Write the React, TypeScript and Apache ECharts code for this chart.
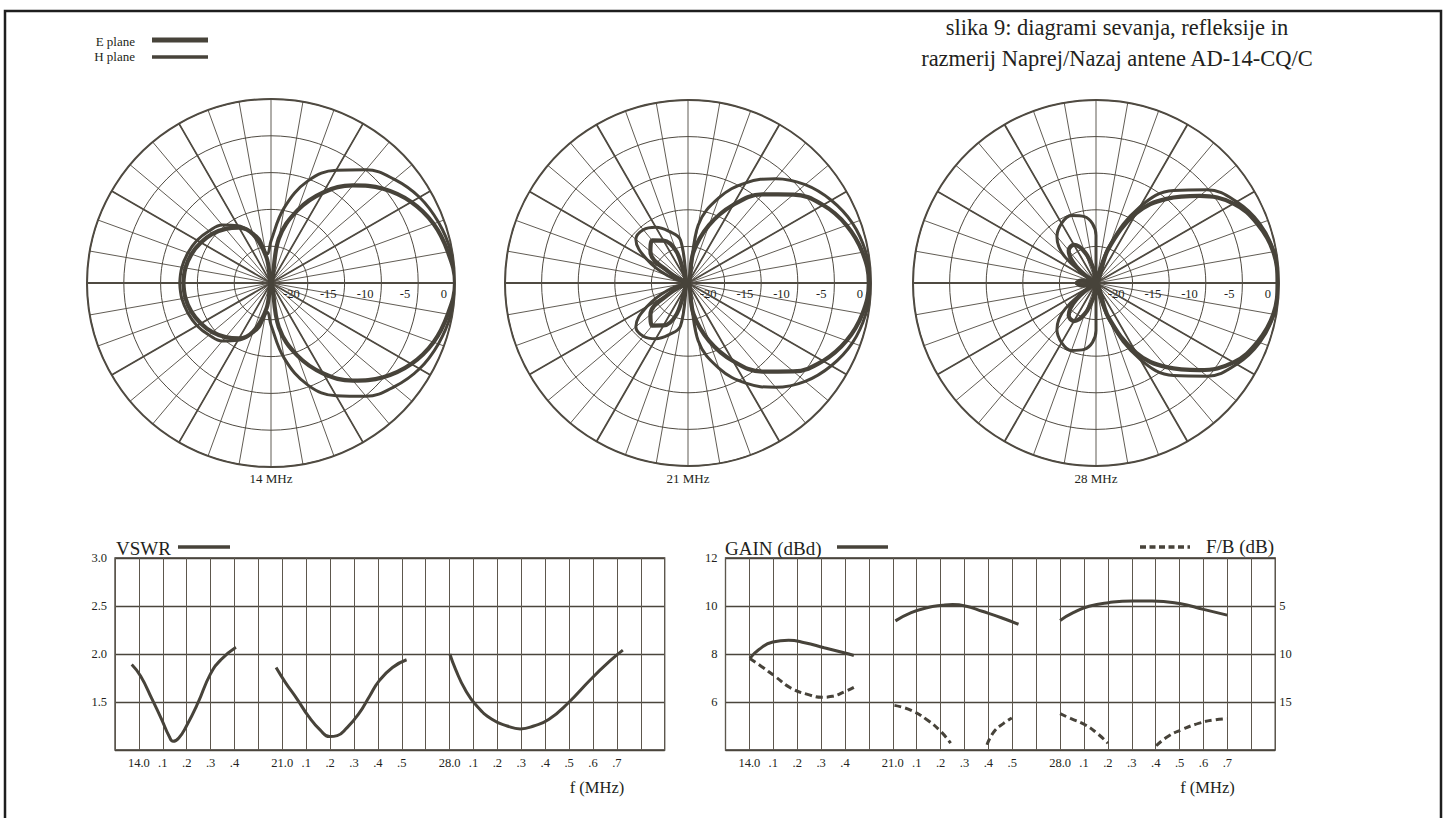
import React, { useEffect, useRef } from 'react';
import * as echarts from 'echarts';

const INK = '#47433a';
const GRIDC = '#4f4a41';
const TXT = '#231f20';
const FONT = '"Liberation Serif", "Times New Roman", serif';

// ---- Radiation patterns (angle in degrees from forward direction, level in dB; symmetric) ----
const freqLabels = ['14 MHz', '21 MHz', '28 MHz'];

const ang14E = [0, 10, 20, 30, 40, 50, 60, 70, 80, 90, 100, 110, 120, 130, 140, 150, 160, 170, 180];
const db14E = [0, -0.6, -1.5, -3.0, -5.1, -7.7, -10.8, -14.5, -18.9, -25, -21.5, -18, -16.3, -15.4, -14.6, -14.0, -13.5, -13.2, -13.1];
const ang14H = [0, 10, 20, 30, 40, 50, 60, 70, 80, 90, 97, 105, 110, 120, 130, 140, 150, 160, 170, 180];
const db14H = [0, -0.2, -0.8, -1.7, -3.1, -4.9, -7.3, -10.2, -14.6, -19.3, -21, -18.8, -17.8, -16, -14.7, -14.0, -13.4, -13.0, -12.7, -12.6];

const ang21 = [0, 10, 20, 30, 40, 50, 60, 70, 80, 90, 100, 110, 120, 130, 140, 150, 160, 170, 180];
const db21E = [-0.3, -0.8, -1.95, -3.7, -6.2, -9.2, -12.7, -16.6, -20.7, -25, -25, -20.5, -18.3, -17.4, -18.3, -22, -25, -25, -25];
const db21H = [0, -0.35, -1.1, -2.4, -4.1, -6.4, -9.2, -12.6, -17, -25, -19, -17.5, -16.2, -15.5, -15.7, -18.5, -22, -25, -25];

const ang28 = [0, 10, 20, 30, 40, 50, 60, 70, 80, 90, 100, 110, 120, 130, 140, 150, 160, 170, 180];
const db28E = [-0.2, -0.4, -1.5, -3.3, -6.5, -10, -14, -20, -25, -25, -23, -20.5, -19, -19.2, -21.5, -25, -25, -23, -22.3];
const db28H = [0, -0.3, -1.2, -2.8, -5.2, -8.5, -13, -19.5, -25, -18.5, -15.8, -15.2, -15.6, -16.7, -19.5, -25, -25, -25, -25];

const thickSpokes = [0, 30, 60, 120, 150, 180, 210, 240, 300, 330];

// ---- Frequency scale (column index -> tick label) ----
const freqXLabels = ['', '14.0', '.1', '.2', '.3', '.4', '', '21.0', '.1', '.2', '.3', '.4', '.5', '', '28.0', '.1', '.2', '.3', '.4', '.5', '.6', '.7', '', ''];

// ---- VSWR ----
const vswr14X = [0.70, 1.07, 1.55, 1.95, 2.27, 2.43, 2.67, 2.99, 3.47, 3.99, 4.43, 5.06];
const vswr14Y = [1.89, 1.77, 1.53, 1.32, 1.14, 1.09, 1.125, 1.25, 1.49, 1.79, 1.94, 2.07];
const vswr21X = [6.74, 7.14, 7.62, 8.10, 8.58, 8.98, 9.30, 9.70, 10.18, 10.65, 11.05, 11.61, 12.20];
const vswr21Y = [1.86, 1.70, 1.53, 1.35, 1.21, 1.14, 1.15, 1.23, 1.37, 1.56, 1.72, 1.86, 1.94];
const vswr28X = [14.01, 14.25, 14.65, 15.13, 15.77, 16.41, 16.96, 17.52, 18.16, 18.96, 19.92, 20.72, 21.25];
const vswr28Y = [2.00, 1.84, 1.63, 1.46, 1.32, 1.25, 1.22, 1.25, 1.32, 1.49, 1.74, 1.93, 2.04];

// ---- Gain (dBd) ----
const gain14X = [1.02, 1.40, 1.98, 2.64, 3.31, 4.13, 4.96, 5.37];
const gain14Y = [7.82, 8.19, 8.50, 8.57, 8.47, 8.26, 8.05, 7.94];
const gain21X = [7.11, 7.77, 8.43, 9.09, 9.50, 10.08, 10.74, 11.57, 12.26];
const gain21Y = [9.38, 9.72, 9.93, 10.03, 10.06, 9.99, 9.78, 9.50, 9.24];
const gain28X = [14.0, 14.55, 15.21, 16.03, 17.02, 17.85, 19.0, 20.0, 20.99];
const gain28Y = [9.40, 9.72, 9.99, 10.14, 10.21, 10.21, 10.10, 9.86, 9.62];

// ---- F/B (dB) ----
const fb14X = [1.02, 1.49, 2.07, 2.73, 3.47, 4.05, 4.46, 4.96, 5.37];
const fb14Y = [10.47, 11.27, 12.32, 13.54, 14.23, 14.51, 14.41, 13.95, 13.47];
const fb21aX = [7.07, 7.77, 8.43, 9.01, 9.42];
const fb21aY = [15.35, 15.87, 16.85, 18.07, 19.29];
const fb21bX = [10.94, 11.24, 11.65, 11.98];
const fb21bY = [19.46, 18.07, 17.20, 16.67];
const fb28aX = [14.0, 14.46, 15.04, 15.54, 16.0];
const fb28aY = [16.22, 16.74, 17.37, 18.24, 19.29];
const fb28bX = [18.02, 18.51, 19.09, 19.83, 20.50, 20.99];
const fb28bY = [19.56, 18.59, 17.89, 17.20, 16.85, 16.74];

function mirror(angles: number[], dbs: number[]) {
  const pts: number[][] = [];
  for (let i = angles.length - 1; i >= 0; i--) pts.push([dbs[i], 360 - angles[i]]);
  for (let i = 1; i < angles.length; i++) pts.push([dbs[i], angles[i]]);
  return pts;
}
function zip(xs: number[], ys: number[]) {
  return xs.map((x, i) => [x, ys[i]]);
}

function buildOption() {
  const centers = [[271, 283], [688, 283], [1096, 283]];
  const radii = [184, 183, 183];
  const patterns = [
    { e: mirror(ang14E, db14E), h: mirror(ang14H, db14H) },
    { e: mirror(ang21, db21E), h: mirror(ang21, db21H) },
    { e: mirror(ang28, db28E), h: mirror(ang28, db28H) },
  ];
  const spokeData: number[][] = [];
  thickSpokes.forEach((a) => { spokeData.push([0, a]); spokeData.push([-25, a]); });

  const polar: any[] = [];
  const angleAxis: any[] = [];
  const radiusAxis: any[] = [];
  const series: any[] = [];
  const graphic: any[] = [];

  centers.forEach((c, i) => {
    polar.push({ center: c, radius: radii[i] });
    angleAxis.push({
      polarIndex: i, type: 'value', min: 0, max: 360, interval: 10, startAngle: 0, clockwise: false,
      axisLine: { show: true, lineStyle: { color: GRIDC, width: 2 } },
      axisTick: { show: false }, axisLabel: { show: false },
      splitLine: { show: true, lineStyle: { color: GRIDC, width: 0.9 } },
    });
    radiusAxis.push({
      polarIndex: i, type: 'value', min: -25, max: 0, interval: 5,
      axisLine: { show: false }, axisTick: { show: false },
      splitLine: { show: true, lineStyle: { color: GRIDC, width: 1 } },
      axisLabel: {
        show: true, showMinLabel: false, color: TXT, fontSize: 12.5, fontFamily: FONT,
        margin: -4, align: 'right', verticalAlign: 'top', padding: [0, 8, 0, 0],
      },
    });
    series.push({
      type: 'line', coordinateSystem: 'polar', polarIndex: i, data: spokeData, symbol: 'none',
      silent: true, lineStyle: { color: GRIDC, width: 1.8 }, z: 2,
    });
    series.push({
      type: 'line', name: 'H plane', coordinateSystem: 'polar', polarIndex: i, data: patterns[i].h,
      smooth: 0.4, symbol: 'none', lineStyle: { color: INK, width: 3, join: 'round' }, z: 3,
    });
    series.push({
      type: 'line', name: 'E plane', coordinateSystem: 'polar', polarIndex: i, data: patterns[i].e,
      smooth: 0.4, symbol: 'none', lineStyle: { color: INK, width: 4.2, join: 'round' }, z: 4,
    });
    graphic.push({
      type: 'text', x: c[0], y: 478,
      style: { text: freqLabels[i], fontSize: 13, fontFamily: FONT, fill: TXT, align: 'center', verticalAlign: 'middle' },
    });
  });

  const COL = 23.9;
  const NCOL = 23;
  const axisLbl = { color: TXT, fontSize: 12.5, fontFamily: FONT };
  const vLine = { show: true, lineStyle: { color: '#5d574d', width: 1 } };
  const hLine = { show: true, lineStyle: { color: '#4a453c', width: 1.3 } };

  const grid = [
    { left: 115, top: 558, width: NCOL * COL, height: 192, show: true, borderColor: '#3f3a33', borderWidth: 1.3, backgroundColor: 'transparent' },
    { left: 725.5, top: 558, width: NCOL * COL, height: 192, show: true, borderColor: '#3f3a33', borderWidth: 1.3, backgroundColor: 'transparent' },
  ];
  const xAxis = [0, 1].map((g) => ({
    gridIndex: g, type: 'value', min: 0, max: NCOL, interval: 1,
    axisLine: { show: false }, axisTick: { show: false }, splitLine: vLine,
    axisLabel: { ...axisLbl, margin: 6, formatter: (v: number) => freqXLabels[Math.round(v)] || '' },
  }));
  const yAxis = [
    {
      gridIndex: 0, type: 'value', min: 1, max: 3, interval: 0.5,
      axisLine: { show: false }, axisTick: { show: false }, splitLine: hLine,
      axisLabel: { ...axisLbl, margin: 8, formatter: (v: number) => (v === 1 ? '' : v.toFixed(1)) },
    },
    {
      gridIndex: 1, type: 'value', min: 4, max: 12, interval: 2,
      axisLine: { show: false }, axisTick: { show: false }, splitLine: hLine,
      axisLabel: { ...axisLbl, margin: 8, formatter: (v: number) => (v === 4 ? '' : String(v)) },
    },
    {
      gridIndex: 1, type: 'value', position: 'right', min: 0, max: 20, interval: 5, inverse: true,
      axisLine: { show: false }, axisTick: { show: false }, splitLine: { show: false },
      axisLabel: { ...axisLbl, margin: 4, formatter: (v: number) => (v === 0 || v === 20 ? '' : String(v)) },
    },
  ];

  const solid = (name: string, data: number[][], xi: number, yi: number) => ({
    type: 'line', name, data, xAxisIndex: xi, yAxisIndex: yi, smooth: 0.5, symbol: 'none',
    lineStyle: { color: INK, width: 3, cap: 'butt' }, z: 5,
  });
  const dashed = (name: string, data: number[][]) => ({
    type: 'line', name, data, xAxisIndex: 1, yAxisIndex: 2, smooth: 0.5, symbol: 'none',
    lineStyle: { color: INK, width: 3, type: [7, 4], cap: 'butt' }, z: 5,
  });
  series.push(solid('VSWR 14', zip(vswr14X, vswr14Y), 0, 0));
  series.push(solid('VSWR 21', zip(vswr21X, vswr21Y), 0, 0));
  series.push(solid('VSWR 28', zip(vswr28X, vswr28Y), 0, 0));
  series.push(solid('GAIN 14', zip(gain14X, gain14Y), 1, 1));
  series.push(solid('GAIN 21', zip(gain21X, gain21Y), 1, 1));
  series.push(solid('GAIN 28', zip(gain28X, gain28Y), 1, 1));
  series.push(dashed('F/B 14', zip(fb14X, fb14Y)));
  series.push(dashed('F/B 21a', zip(fb21aX, fb21aY)));
  series.push(dashed('F/B 21b', zip(fb21bX, fb21bY)));
  series.push(dashed('F/B 28a', zip(fb28aX, fb28aY)));
  series.push(dashed('F/B 28b', zip(fb28bX, fb28bY)));

  const txt = (text: string, x: number, y: number, size: number, align = 'left') => ({
    type: 'text', x, y, silent: true,
    style: { text, fontSize: size, fontFamily: FONT, fill: TXT, align, verticalAlign: 'middle' },
  });
  const ln = (x1: number, y1: number, x2: number, y2: number, w: number, dash?: number[]) => ({
    type: 'line', silent: true, shape: { x1, y1, x2, y2 },
    style: { stroke: INK, lineWidth: w, lineDash: dash },
  });

  graphic.push(
    { type: 'rect', silent: true, shape: { x: 5, y: 11, width: 1436, height: 830 }, style: { fill: 'none', stroke: '#1e1e1e', lineWidth: 2.5 } },
    txt('slika 9: diagrami sevanja, refleksije in', 1117, 27, 22.5, 'center'),
    txt('razmerij Naprej/Nazaj antene AD-14-CQ/C', 1117, 58, 22.5, 'center'),
    txt('E plane', 135, 41, 13, 'right'),
    txt('H plane', 135, 56, 13, 'right'),
    ln(152, 40, 208, 40, 5),
    ln(152, 57, 208, 57, 3.5),
    txt('VSWR', 116, 548, 19),
    ln(178, 547, 230, 547, 3.5),
    txt('GAIN (dBd)', 725, 548, 19),
    ln(837, 547, 888, 547, 3.5),
    ln(1140, 547, 1190, 547, 3.5, [6, 3.5]),
    txt('F/B (dB)', 1206, 546, 19),
    txt('f (MHz)', 115 + 482, 787, 16.5, 'center'),
    txt('f (MHz)', 725.5 + 482, 787, 16.5, 'center'),
  );

  return {
    animation: false,
    backgroundColor: '#ffffff',
    textStyle: { fontFamily: FONT },
    polar, angleAxis, radiusAxis, grid, xAxis, yAxis, series, graphic,
  };
}

export default function App() {
  const ref = useRef<HTMLDivElement>(null);
  useEffect(() => {
    const chart = echarts.init(ref.current!, null, { renderer: 'svg' });
    chart.setOption(buildOption() as any);
    return () => chart.dispose();
  }, []);
  return (
    <div
      ref={ref}
      style={{ position: 'fixed', left: 0, top: 0, width: 1447, height: 818, background: '#fff' }}
    />
  );
}
